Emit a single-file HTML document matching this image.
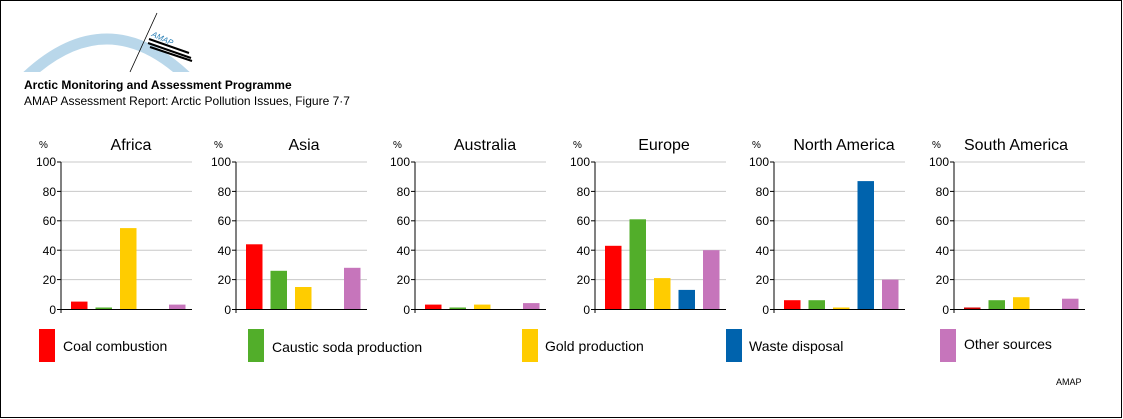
<!DOCTYPE html>
<html><head><meta charset="utf-8"><style>
html,body{margin:0;padding:0;background:#fff}
svg{display:block}
text{font-family:"Liberation Sans",sans-serif}
</style></head><body>
<svg width="1123" height="419" viewBox="0 0 1123 419" xmlns="http://www.w3.org/2000/svg">
<rect x="0.5" y="0.5" width="1121" height="417" fill="#fff" stroke="#000"/>
<clipPath id="cp"><rect x="0" y="0" width="300" height="72"/></clipPath>
<path d="M25 78 Q107 0 188 78" fill="none" stroke="#b9d7ea" stroke-width="11" clip-path="url(#cp)"/>
<line x1="130" y1="72" x2="157" y2="13" stroke="#000" stroke-width="0.8"/>
<text x="151" y="36" font-size="8" fill="#2a7fb5" transform="rotate(25 151 36)" font-style="italic">AMAP</text>
<line x1="149" y1="39" x2="189" y2="53" stroke="#000" stroke-width="2"/>
<line x1="148" y1="43" x2="191" y2="58" stroke="#000" stroke-width="2"/>
<line x1="150" y1="47" x2="192" y2="61" stroke="#000" stroke-width="2"/>
<text x="24" y="89" font-size="12" font-weight="bold">Arctic Monitoring and Assessment Programme</text>
<text x="24" y="105" font-size="12">AMAP Assessment Report: Arctic Pollution Issues, Figure 7·7</text>
<defs>
<g id="ax" font-size="12">
<g stroke="#c8c8c8"><line x1="0" y1="162" x2="131" y2="162"/><line x1="0" y1="191.4" x2="131" y2="191.4"/><line x1="0" y1="220.8" x2="131" y2="220.8"/><line x1="0" y1="250.2" x2="131" y2="250.2"/><line x1="0" y1="279.6" x2="131" y2="279.6"/></g>
<g stroke="#000"><line x1="0" y1="162" x2="0" y2="313"/><line x1="0" y1="309.5" x2="131" y2="309.5"/>
<line x1="-4" y1="162" x2="0" y2="162"/><line x1="-4" y1="191.4" x2="0" y2="191.4"/><line x1="-4" y1="220.8" x2="0" y2="220.8"/><line x1="-4" y1="250.2" x2="0" y2="250.2"/><line x1="-4" y1="279.6" x2="0" y2="279.6"/><line x1="-4" y1="309.5" x2="0" y2="309.5"/></g>
<g text-anchor="end"><text x="-5" y="166">100</text><text x="-5" y="196">80</text><text x="-5" y="225">60</text><text x="-5" y="255">40</text><text x="-5" y="284">20</text><text x="-5" y="314">0</text></g>
<text x="-22" y="148" font-size="10">%</text>
</g>
</defs>
<g transform="translate(61,0)"><use href="#ax"/><text x="70" y="150" font-size="16" text-anchor="middle">Africa</text>
<rect x="10" y="301.6" width="16.5" height="7.4" fill="#f00"/><rect x="34.5" y="307.5" width="16.5" height="1.5" fill="#52ae2a"/><rect x="59" y="228.1" width="16.5" height="80.9" fill="#fc0"/><rect x="108" y="304.6" width="16.5" height="4.4" fill="#c675bb"/></g>
<g transform="translate(236,0)"><use href="#ax"/><text x="68" y="150" font-size="16" text-anchor="middle">Asia</text>
<rect x="10" y="244.3" width="16.5" height="64.7" fill="#f00"/><rect x="34.5" y="270.8" width="16.5" height="38.2" fill="#52ae2a"/><rect x="59" y="287" width="16.5" height="22" fill="#fc0"/><rect x="108" y="267.8" width="16.5" height="41.2" fill="#c675bb"/></g>
<g transform="translate(415,0)"><use href="#ax"/><text x="70" y="150" font-size="16" text-anchor="middle">Australia</text>
<rect x="10" y="304.6" width="16.5" height="4.4" fill="#f00"/><rect x="34.5" y="307.5" width="16.5" height="1.5" fill="#52ae2a"/><rect x="59" y="304.6" width="16.5" height="4.4" fill="#fc0"/><rect x="108" y="303.1" width="16.5" height="5.9" fill="#c675bb"/></g>
<g transform="translate(595,0)"><use href="#ax"/><text x="69" y="150" font-size="16" text-anchor="middle">Europe</text>
<rect x="10" y="245.8" width="16.5" height="63.2" fill="#f00"/><rect x="34.5" y="219.3" width="16.5" height="89.7" fill="#52ae2a"/><rect x="59" y="278.1" width="16.5" height="30.9" fill="#fc0"/><rect x="83.5" y="289.9" width="16.5" height="19.1" fill="#0063ad"/><rect x="108" y="250.2" width="16.5" height="58.8" fill="#c675bb"/></g>
<g transform="translate(774,0)"><use href="#ax"/><text x="70" y="150" font-size="16" text-anchor="middle">North America</text>
<rect x="10" y="300.2" width="16.5" height="8.8" fill="#f00"/><rect x="34.5" y="300.2" width="16.5" height="8.8" fill="#52ae2a"/><rect x="59" y="307.5" width="16.5" height="1.5" fill="#fc0"/><rect x="83.5" y="181.1" width="16.5" height="127.9" fill="#0063ad"/><rect x="108" y="279.6" width="16.5" height="29.4" fill="#c675bb"/></g>
<g transform="translate(954,0)"><use href="#ax"/><text x="62" y="150" font-size="16" text-anchor="middle">South America</text>
<rect x="10" y="307.5" width="16.5" height="1.5" fill="#c00"/><rect x="34.5" y="300.2" width="16.5" height="8.8" fill="#52ae2a"/><rect x="59" y="297.2" width="16.5" height="11.8" fill="#fc0"/><rect x="108" y="298.7" width="16.5" height="10.3" fill="#c675bb"/></g>
<g font-size="14">
<rect x="39" y="329" width="16" height="33" fill="#f00"/><text x="63" y="351">Coal combustion</text>
<rect x="248" y="329" width="16" height="33" fill="#52ae2a"/><text x="272" y="352">Caustic soda production</text>
<rect x="522" y="329" width="16" height="33" fill="#fc0"/><text x="545" y="351">Gold production</text>
<rect x="726" y="329" width="16" height="33" fill="#0063ad"/><text x="749" y="351">Waste disposal</text>
<rect x="940" y="329" width="16" height="33" fill="#c675bb"/><text x="964" y="349">Other sources</text>
</g>
<text x="1056" y="385" font-size="9">AMAP</text>
</svg>
</body></html>
